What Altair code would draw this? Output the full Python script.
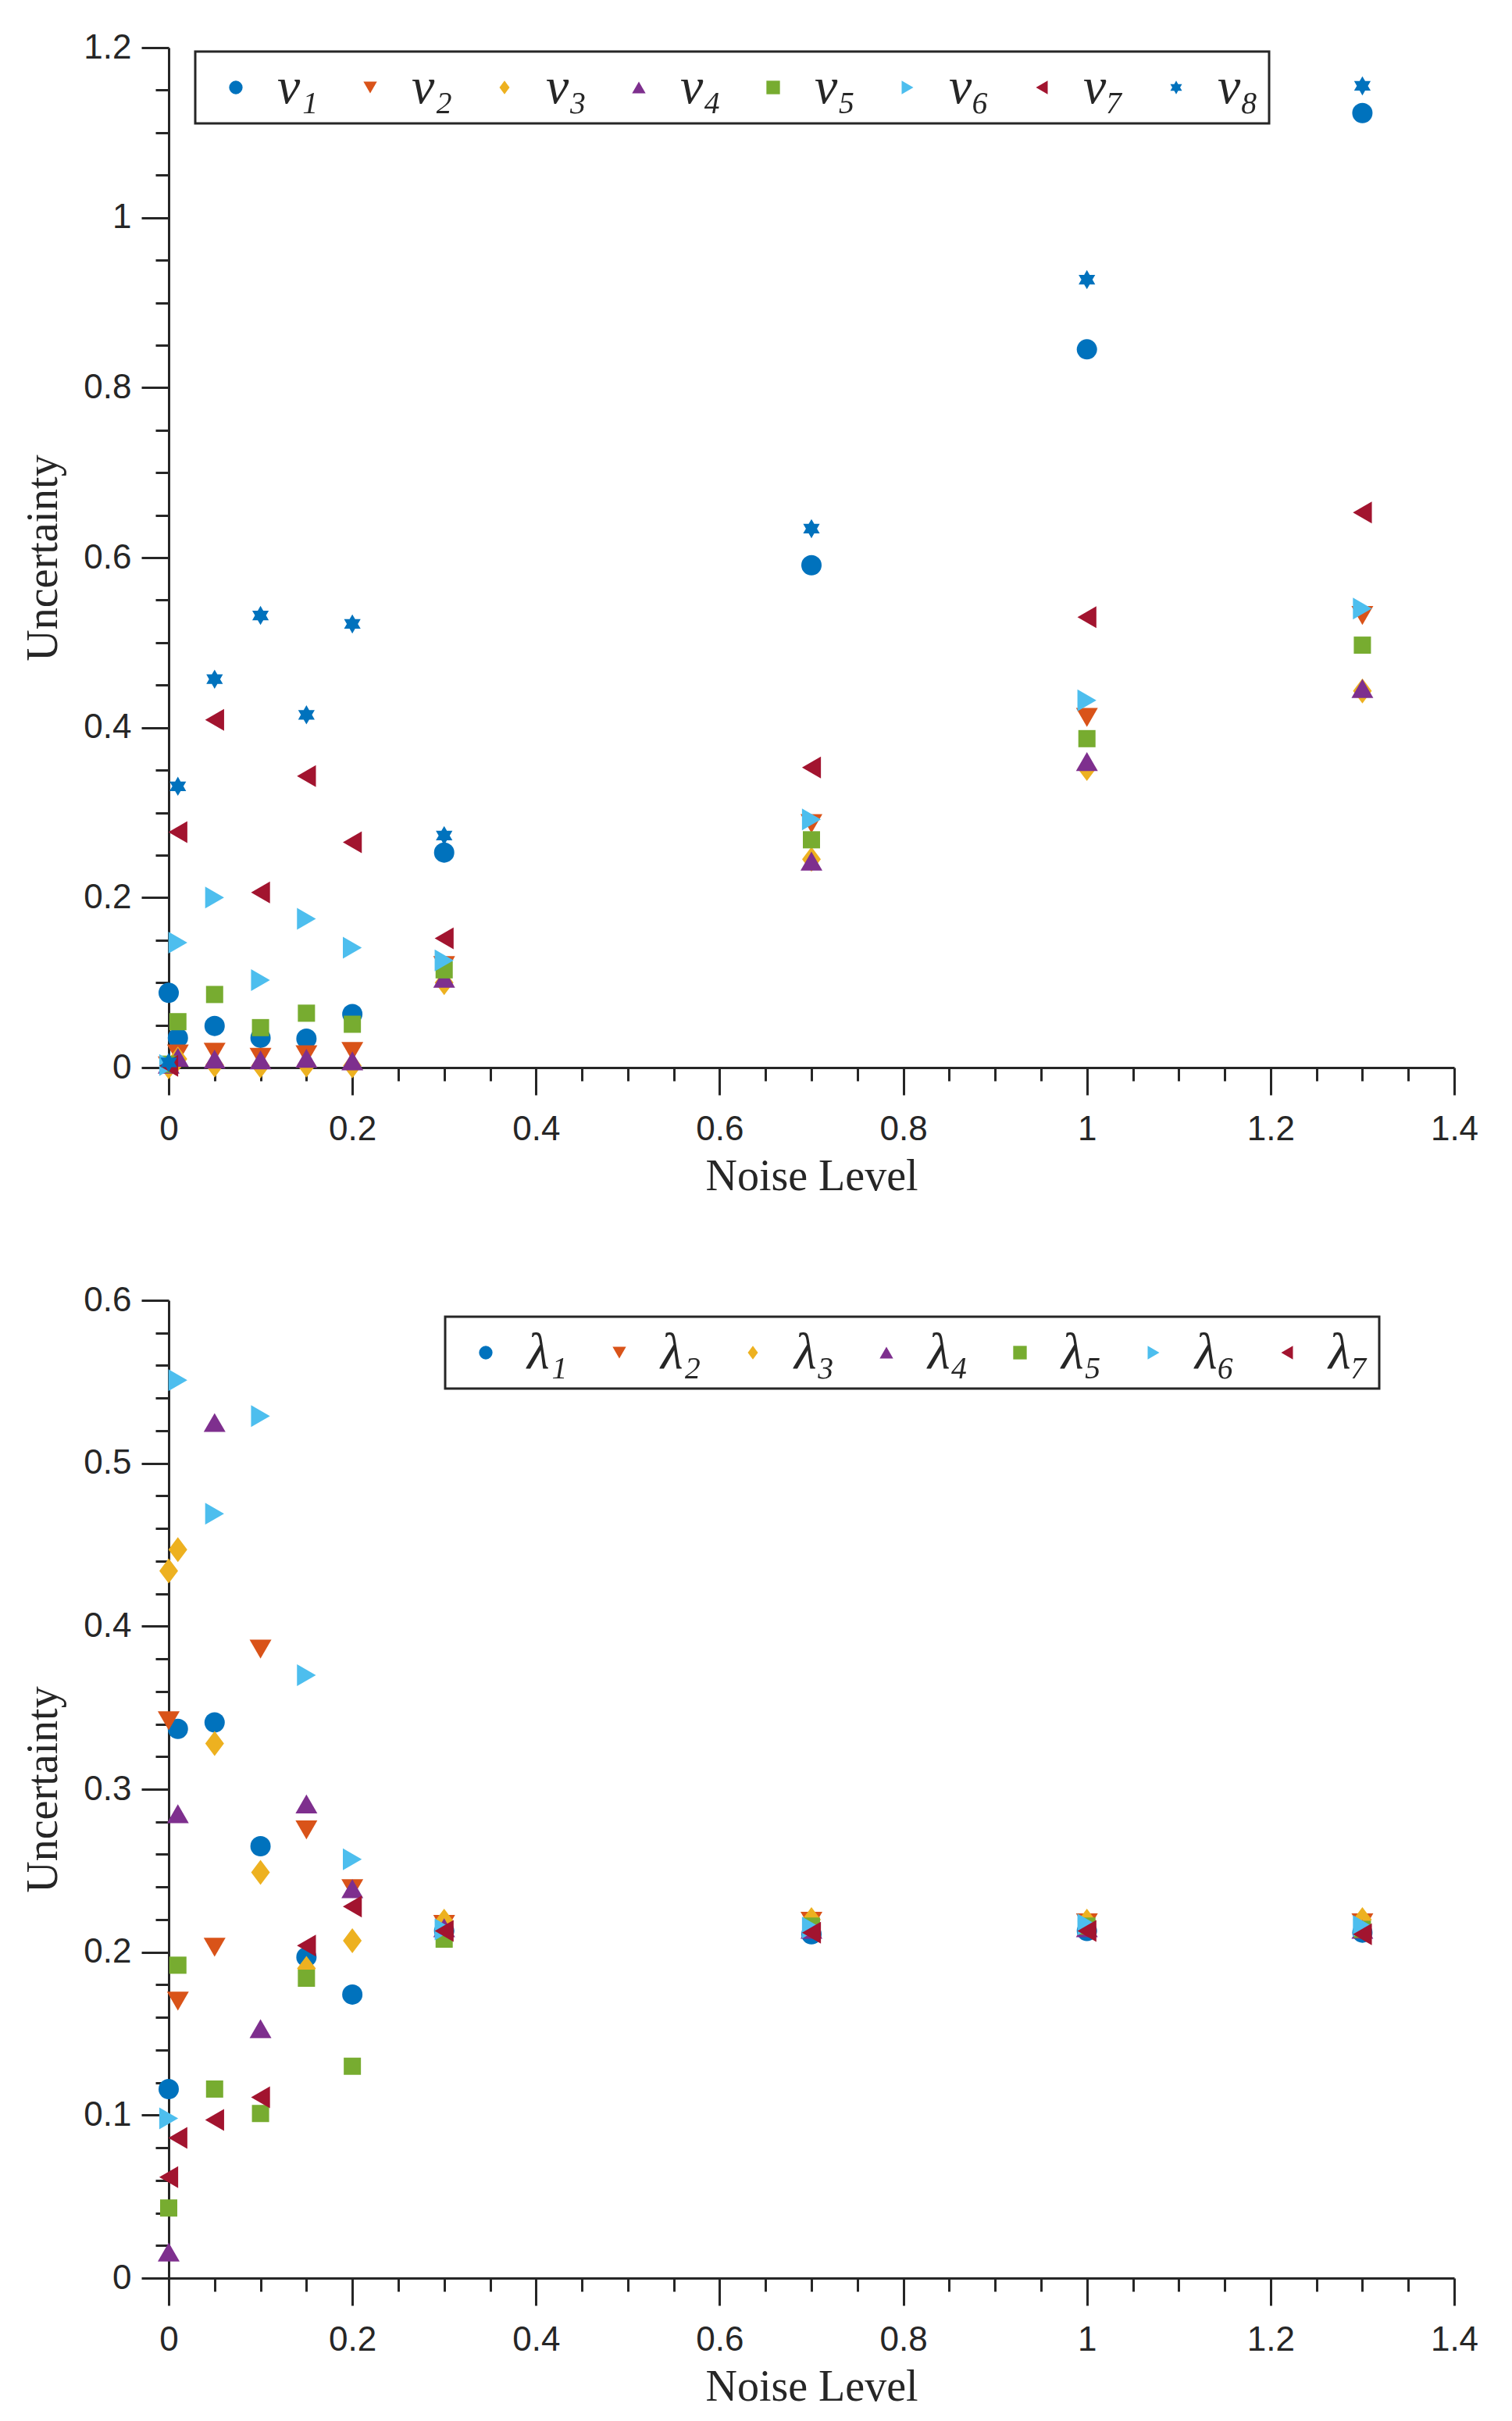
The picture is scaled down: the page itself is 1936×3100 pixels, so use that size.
import math
import altair as alt
import pandas as pd

# ---------------- data ----------------
noise = [0, 0.01, 0.05, 0.1, 0.15, 0.2, 0.3, 0.7, 1.0, 1.3]

v1 = [0.088, 0.035, 0.049, 0.035, 0.034, 0.063, 0.253, 0.591, 0.845, 1.123]
v2 = [0.002, 0.016, 0.018, 0.012, 0.015, 0.019, 0.120, 0.287, 0.412, 0.532]
v3 = [0.001, 0.010, 0.003, 0.002, 0.003, 0.002, 0.100, 0.245, 0.352, 0.443]
v4 = [0.004, 0.012, 0.010, 0.009, 0.011, 0.008, 0.105, 0.243, 0.360, 0.446]
v5 = [0.004, 0.054, 0.086, 0.047, 0.064, 0.051, 0.115, 0.268, 0.387, 0.497]
v6 = [0.003, 0.147, 0.200, 0.103, 0.175, 0.141, 0.126, 0.292, 0.432, 0.540]
v7 = [0.002, 0.277, 0.409, 0.206, 0.343, 0.265, 0.152, 0.353, 0.530, 0.653]
v8 = [0.006, 0.331, 0.457, 0.532, 0.415, 0.522, 0.273, 0.634, 0.927, 1.155]

lam1 = [0.116, 0.337, 0.341, 0.265, 0.197, 0.174, 0.213, 0.211, 0.213, 0.212]
lam2 = [0.342, 0.170, 0.203, 0.386, 0.275, 0.239, 0.217, 0.219, 0.218, 0.218]
lam3 = [0.434, 0.447, 0.328, 0.249, 0.190, 0.207, 0.219, 0.220, 0.219, 0.220]
lam4 = [0.016, 0.285, 0.525, 0.153, 0.291, 0.239, 0.215, 0.214, 0.215, 0.214]
lam5 = [0.043, 0.192, 0.116, 0.101, 0.184, 0.130, 0.208, 0.216, 0.216, 0.214]
lam6 = [0.098, 0.551, 0.469, 0.529, 0.370, 0.257, 0.214, 0.215, 0.217, 0.216]
lam7 = [0.062, 0.086, 0.097, 0.111, 0.204, 0.228, 0.213, 0.212, 0.213, 0.211]

v_names = ["v\u2081", "v\u2082", "v\u2083", "v\u2084", "v\u2085", "v\u2086", "v\u2087", "v\u2088"]
lam_names = ["\u03bb\u2081", "\u03bb\u2082", "\u03bb\u2083", "\u03bb\u2084",
             "\u03bb\u2085", "\u03bb\u2086", "\u03bb\u2087"]

x_title = "Noise Level"
y_title = "Uncertainty"

# ---------------- styles ----------------
colors = ["#0072BD", "#D95319", "#EDB120", "#7E2F8E", "#77AC30", "#4DBEEE", "#A2142F", "#0072BD"]


def hexagram():
    pts = []
    for k in range(12):
        a = math.radians(-90 + 30 * k)
        r = 1.0 if k % 2 == 0 else 1 / math.sqrt(3)
        pts.append((r * math.cos(a), r * math.sin(a)))
    return "M" + " L".join(f"{px:.4f},{py:.4f}" for px, py in pts) + " Z"


diamond = "M0,-1 L0.75,0 L0,1 L-0.75,0 Z"
shapes = ["circle", "triangle-down", diamond, "triangle-up", "square",
          "triangle-right", "triangle-left", hexagram()]
sizes = [676, 784, 1024, 784, 484, 784, 784, 600]

INK = "#262626"


def make_axis(title, values, mult, label_pad, title_pad):
    test = f"abs(datum.value*{mult} - round(datum.value*{mult})) < 1e-6"
    return alt.Axis(
        title=title,
        values=values,
        labelExpr=f"({test}) ? format(datum.value, '~g') : ''",
        tickSize={"condition": {"test": test, "value": 35}, "value": 17},
        labelPadding=label_pad,
        titlePadding=title_pad,
        labelFlush=False,
        labelOverlap=False,
        grid=False,
        zindex=0,
    )


def panel(xs, series, names, ydom, ymult, yvals, leg_x, leg_y, height):
    rows = []
    for name, vals in zip(names, series):
        for xv, yv in zip(xs, vals):
            rows.append({"noise": xv, "unc": yv, "series": name})
    df = pd.DataFrame(rows)
    n = len(names)
    legend = alt.Legend(
        title=None, orient="none", legendX=leg_x, legendY=leg_y,
        direction="horizontal", columns=n, gridAlign="all",
        labelFont="Liberation Serif", labelFontStyle="italic", labelFontSize=66,
        labelColor=INK, labelLimit=400, symbolSize=300, symbolStrokeWidth=0,
        symbolOffset=6, labelOffset=20, columnPadding=27, padding=13,
        strokeColor=INK, fillColor="white",
    )
    cscale = alt.Scale(domain=names, range=colors[:n])
    sscale = alt.Scale(domain=names, range=shapes[:n])
    xvals = [round(i * 0.05, 2) for i in range(29)]
    base = alt.Chart(df)
    layers = []
    for i, name in enumerate(names):
        layers.append(
            base.transform_filter(alt.datum.series == name)
            .mark_point(filled=True, opacity=1, size=sizes[i], strokeWidth=0)
            .encode(
                x=alt.X("noise:Q", scale=alt.Scale(domain=[0, 1.4], nice=False),
                        axis=make_axis(x_title, xvals, 5, 22, 11)),
                y=alt.Y("unc:Q", scale=alt.Scale(domain=ydom, nice=False),
                        axis=make_axis(y_title, yvals, ymult, 13, 22)),
                color=alt.Color("series:N", scale=cscale, legend=legend),
                shape=alt.Shape("series:N", scale=sscale, legend=legend),
            )
        )
    return alt.layer(*layers).properties(width=1646, height=height)


top = panel(noise, [v1, v2, v3, v4, v5, v6, v7, v8], v_names, [0, 1.2], 5,
            [round(i * 0.05, 2) for i in range(25)], 34, 5, 1306)
bottom = panel(noise, [lam1, lam2, lam3, lam4, lam5, lam6, lam7], lam_names, [0, 0.6], 10,
               [round(i * 0.02, 2) for i in range(31)], 354, 21, 1252)

chart = (
    alt.vconcat(top, bottom, spacing=109)
    .resolve_scale(color="independent", shape="independent")
    .resolve_legend(color="independent", shape="independent")
    .properties(padding={"left": 19, "top": 31, "right": 0, "bottom": 0}, background="white")
    .configure_view(stroke=None)
    .configure_axis(
        domainColor=INK, domainWidth=3, tickColor=INK, tickWidth=3,
        labelFont="Liberation Sans", labelFontSize=44, labelColor=INK,
        titleFont="Liberation Serif", titleFontSize=56, titleFontWeight="normal",
        titleColor=INK,
    )
    .configure_legend(strokeWidth=3)
)

chart.save("out.html", embed_options={"renderer": "svg", "actions": False})
